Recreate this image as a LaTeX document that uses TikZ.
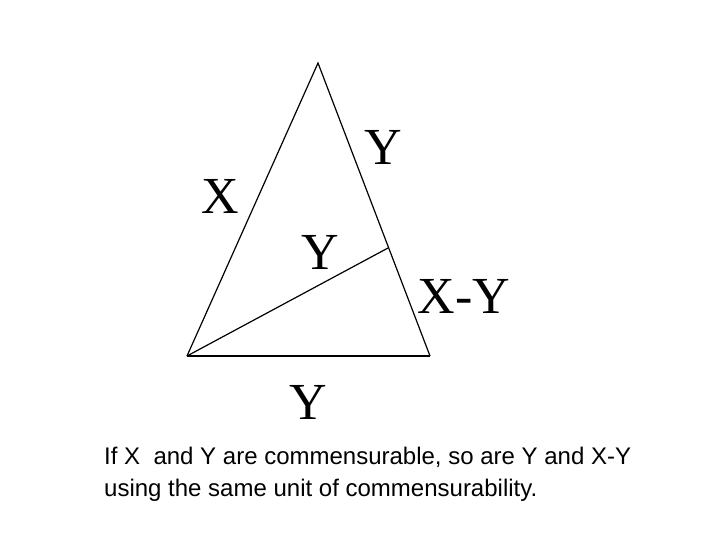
\documentclass[tikz,border=0pt]{standalone}
\usepackage{fontspec}
\setmainfont{Liberation Serif}
\setsansfont{Liberation Sans}
\begin{document}
\begin{tikzpicture}[x=1pt, y=-1pt,
    side/.style={font=\fontsize{52}{52}\selectfont, inner sep=0pt},
    caption/.style={font=\sffamily\fontsize{24}{32}\selectfont, align=left, inner sep=0pt}]
            \useasboundingbox (0, 0) rectangle (720, 540);

            \coordinate (top) at (318, 63);
            \coordinate (left) at (187, 356);
            \coordinate (right) at (430, 356);
            \coordinate (cut) at (388, 248);

            \draw[line width=1.2pt] (left) -- (top) -- (right);
            \draw[line width=1.6pt] (left) -- (right);
            \draw[line width=1.2pt] (left) -- (cut);

            \node[side] (lx) at (220, 196) {X};
            \node[side] (ly) at (383, 147) {Y};
            \node[side] (my) at (320, 252) {Y};
            \node[side] (rxy) at (464, 296) {X-Y};
            \node[side] (by) at (308, 402) {Y};

            \node[caption, anchor=north west] (note) at (104, 447)
                {If X\ \ and Y are commensurable, so are Y and X-Y\\
                 using the same unit of commensurability.};
        \end{tikzpicture}
\end{document}
